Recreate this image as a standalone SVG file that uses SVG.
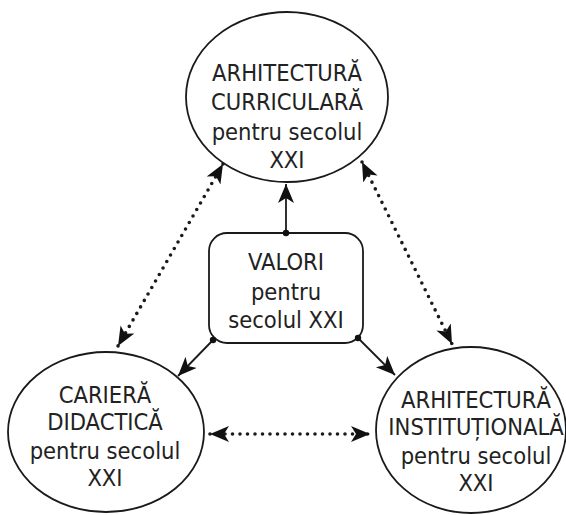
<svg xmlns="http://www.w3.org/2000/svg" width="566" height="515" viewBox="0 0 566 515">
<style>
.shape{fill:#fff;stroke:#1a1a1a;stroke-width:1.8}
.t{font-family:"DejaVu Sans Condensed","DejaVu Sans",sans-serif;font-stretch:condensed;font-size:23.5px;fill:#222;text-anchor:middle}
.solid{stroke:#1a1a1a;stroke-width:1.8;fill:none}
.dot{stroke:#1a1a1a;stroke-width:3.6;stroke-linecap:round;stroke-dasharray:0 7.5;fill:none}
</style>
<defs>
<marker id="ah" markerUnits="userSpaceOnUse" markerWidth="22" markerHeight="18" refX="19" refY="8" orient="auto-start-reverse">
<path d="M0,0 L19,8 L0,16 L5,8 z" fill="#111"/>
</marker>
</defs>
<rect width="566" height="515" fill="#fff"/>
<g id="n-curriculara">
<ellipse class="shape" cx="287" cy="97" rx="101" ry="85"/>
<text class="t" x="287" y="81">ARHITECTURĂ</text>
<text class="t" x="287" y="110">CURRICULARĂ</text>
<text class="t" x="287" y="140">pentru secolul</text>
<text class="t" x="287" y="168">XXI</text>
</g>
<g id="n-valori">
<rect class="shape" x="209" y="233" width="154" height="110" rx="18"/>
<text class="t" x="286" y="270">VALORI</text>
<text class="t" x="286" y="300">pentru</text>
<text class="t" x="286" y="328">secolul XXI</text>
</g>
<g id="n-cariera">
<ellipse class="shape" cx="106" cy="432" rx="98" ry="80"/>
<text class="t" x="105" y="403">CARIERĂ</text>
<text class="t" x="105" y="430">DIDACTICĂ</text>
<text class="t" x="105" y="459">pentru secolul</text>
<text class="t" x="105" y="486">XXI</text>
</g>
<g id="n-institutionala">
<ellipse class="shape" cx="471" cy="430" rx="95" ry="83"/>
<text class="t" x="476" y="408">ARHITECTURĂ</text>
<text class="t" x="476" y="435">INSTITUȚIONALĂ</text>
<text class="t" x="476" y="464">pentru secolul</text>
<text class="t" x="476" y="491">XXI</text>
</g>
<g id="connectors">
<line class="solid" x1="286" y1="233" x2="286" y2="184" marker-end="url(#ah)"/>
<circle cx="286" cy="233" r="3.2" fill="#111"/>
<line class="solid" x1="213" y1="340" x2="178" y2="376" marker-end="url(#ah)"/>
<circle cx="213" cy="340" r="3.2" fill="#111"/>
<line class="solid" x1="358" y1="338" x2="395" y2="375" marker-end="url(#ah)"/>
<circle cx="358" cy="338" r="3.2" fill="#111"/>
<line class="dot" x1="223" y1="164" x2="118" y2="346" marker-start="url(#ah)" marker-end="url(#ah)"/>
<line class="dot" x1="362" y1="162" x2="452" y2="344" marker-start="url(#ah)" marker-end="url(#ah)"/>
<line class="dot" x1="210" y1="434" x2="370" y2="434" marker-start="url(#ah)" marker-end="url(#ah)"/>
</g>
</svg>
